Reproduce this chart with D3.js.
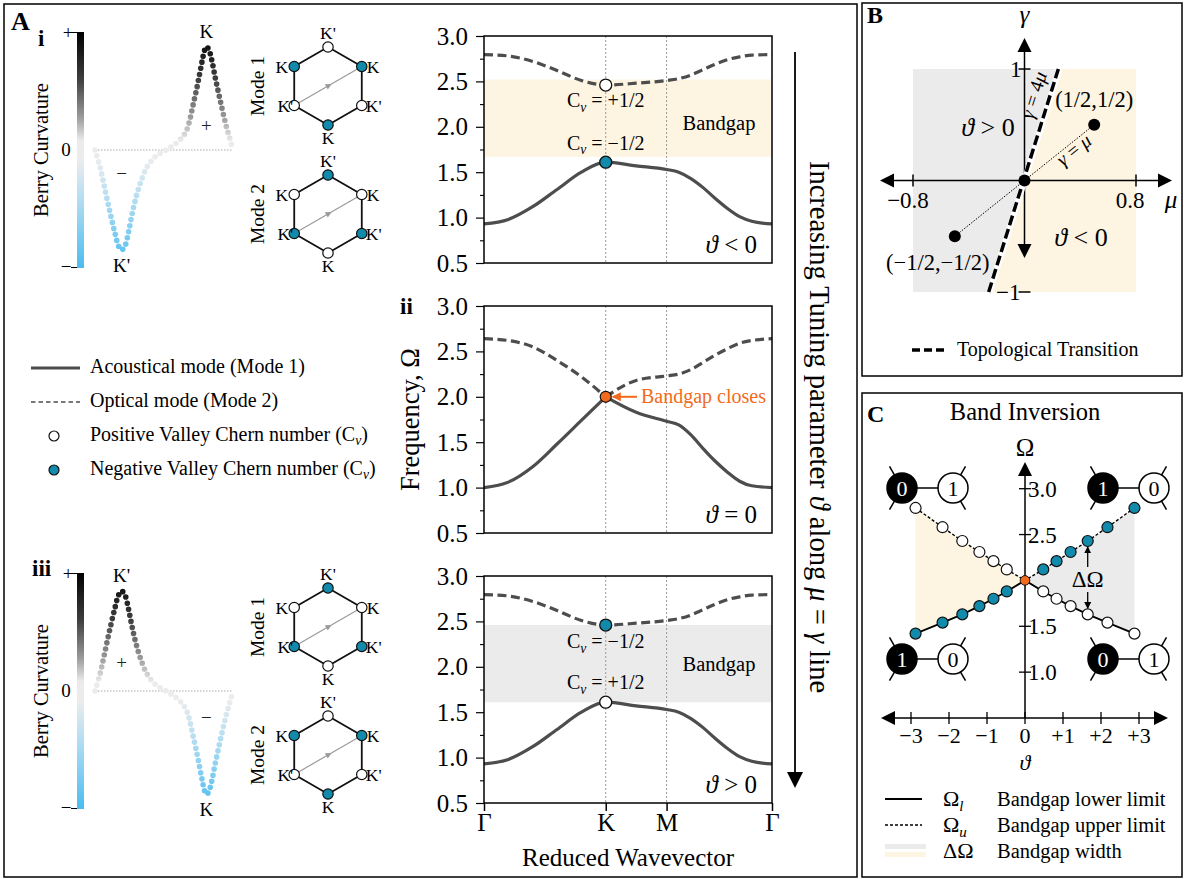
<!DOCTYPE html>
<html><head><meta charset="utf-8">
<script src="https://cdn.jsdelivr.net/npm/d3@7"></script>
<style>body{margin:0;background:#fff} text{font-family:"Liberation Serif","Times New Roman",serif;}</style>
</head><body><svg id="c" width="1184" height="879"></svg>
<script>
// ================= DATA =================
// Band structure along Γ-K-M-Γ (path length, Γ=0, K=1, M=1.5, Γ=2.366)
const kNodes = [0, 0.2, 0.4, 0.6, 0.8, 1.0, 1.25, 1.5, 1.6, 1.7, 1.8, 1.9, 2.0, 2.1, 2.2, 2.366];
const kTickVals = [0, 1.0, 1.5, 2.366];
const kTickLabels = ["Γ", "K", "M", "Γ"];
const acousticGapped = [0.93, 0.98, 1.12, 1.31, 1.50, 1.61, 1.57, 1.53, 1.50, 1.43, 1.33, 1.21, 1.10, 1.01, 0.96, 0.93];
const opticalGapped  = [2.795, 2.78, 2.72, 2.62, 2.51, 2.46, 2.48, 2.51, 2.53, 2.57, 2.63, 2.69, 2.74, 2.77, 2.79, 2.795];
const acousticZero   = [1.00, 1.06, 1.23, 1.48, 1.74, 2.00, 1.83, 1.73, 1.69, 1.58, 1.43, 1.29, 1.17, 1.07, 1.02, 1.00];
const opticalZero    = [2.64, 2.62, 2.55, 2.40, 2.22, 2.00, 2.18, 2.23, 2.25, 2.30, 2.38, 2.46, 2.53, 2.59, 2.62, 2.64];
const freqTicks = [0.5, 1.0, 1.5, 2.0, 2.5, 3.0];
const freqMinor = [0.75, 1.25, 1.75, 2.25, 2.75];
const gapNeg = [1.67, 2.52];   // bandgap, theta < 0
const gapPos = [1.61, 2.46];   // bandgap, theta > 0
const kAtK = 1.0;
const omegaKUpper = 2.46, omegaKLower = 1.61, omegaKZero = 2.0;

// Berry curvature profile (u across the path, v normalised curvature)
const berryU = [0, .036, .063, .089, .116, .145, .171, .193, .217, .241, .265, .292, .328, .378, .441, .506, .566, .627, .663, .687, .708, .735, .759, .778, .793, .807, .824, .846, .870, .896, .923, .949, .976, 1.0];
const berryV = [0, -.141, -.282, -.424, -.565, -.706, -.814, -.847, -.814, -.706, -.565, -.424, -.282, -.141, -.051, -.006, .037, .099, .164, .254, .367, .508, .650, .763, .842, .876, .853, .763, .621, .480, .339, .212, .099, 0];

// Hexagon vertex labels: top, upper-right, lower-right, bottom, lower-left, upper-left
const hexLabels = ["K'", "K", "K'", "K", "K'", "K"];
// valley Chern sign of K for each mode (K' is opposite)
const chernKsign = { i: { mode1: -1, mode2: 1 }, iii: { mode1: 1, mode2: -1 } };

// Panel B
const muDomain = [-0.8, 0.8], gammaDomain = [-1, 1];
const transitionSlope = 4;
const bPoints = [[0.5, 0.5], [-0.5, -0.5], [0, 0]];

// Panel C: band inversion
const thetaC     = [-2.88, -2.17, -1.65, -1.2, -0.83, -0.48, 0, 0.48, 0.83, 1.2, 1.65, 2.17, 2.88];
const omegaUpper = [2.79, 2.58, 2.43, 2.31, 2.21, 2.12, 2.0, 2.12, 2.21, 2.31, 2.43, 2.58, 2.79];
const omegaLower = [1.42, 1.54, 1.63, 1.72, 1.80, 1.88, 2.0, 1.88, 1.80, 1.72, 1.63, 1.54, 1.42];
const thetaTicks = [-3, -2, -1, 0, 1, 2, 3];
const thetaTickLabels = ["−3", "−2", "−1", "0", "+1", "+2", "+3"];
const omegaCTicks = [1.0, 1.5, 2.5, 3.0];
const dimerLabels = [["0", "1"], ["1", "0"], ["1", "0"], ["0", "1"]];

// ================= STYLE =================
const TEAL = "#118aab", ORANGE = "#f26b1d", CREAM = "#fdf4e1", GREY = "#ebebeb", LINE = "#4d4d4d";
const SERIF = '"Liberation Serif","Times New Roman",serif';

const svg = d3.select("#c");
svg.append("rect").attr("width", 1184).attr("height", 879).attr("fill", "#fff");
const defs = svg.append("defs");

function rich(g, x, y, segs, size, anchor = "start", rotate = null, extra = {}) {
  const t = g.append("text").attr("x", x).attr("y", y).attr("font-size", size)
    .attr("text-anchor", anchor).attr("font-family", SERIF);
  if (rotate !== null) t.attr("transform", `rotate(${rotate},${x},${y})`);
  for (const k in extra) t.attr(k, extra[k]);
  let shift = 0;
  segs.forEach(s => {
    if (typeof s === "string") s = { t: s };
    const sp = t.append("tspan").text(s.t);
    if (s.it) sp.attr("font-style", "italic");
    if (s.sub) { sp.attr("font-size", size * 0.68).attr("dy", size * 0.22 - shift); shift = size * 0.22; }
    else if (shift) { sp.attr("dy", -shift); shift = 0; }
    if (s.fill) sp.attr("fill", s.fill);
  });
  return t;
}
function T(g, x, y, str, size, anchor = "start", extra = {}) { return rich(g, x, y, [str], size, anchor, null, extra); }

// arrow markers
function marker(id, color, w, h) {
  defs.append("marker").attr("id", id).attr("viewBox", "0 0 10 10").attr("refX", 9).attr("refY", 5)
    .attr("markerWidth", w).attr("markerHeight", h).attr("orient", "auto").attr("markerUnits", "userSpaceOnUse")
    .append("path").attr("d", "M0,0 L10,5 L0,10 z").attr("fill", color);
}
marker("arrGrey", "#9a9a9a", 7, 6);
marker("arrOrange", ORANGE, 10, 9);
marker("arrBlack", "#000", 7, 7);

// ================= PANEL FRAMES =================
const frames = svg.append("g").attr("fill", "none").attr("stroke", "#000").attr("stroke-width", 1.5);
frames.append("rect").attr("x", 4).attr("y", 4).attr("width", 853).attr("height", 873);
frames.append("rect").attr("x", 862).attr("y", 3).attr("width", 320).attr("height", 373);
frames.append("rect").attr("x", 862).attr("y", 393).attr("width", 320).attr("height", 484);

const A = svg.append("g");
T(A, 11, 30, "A", 26, "start", { "font-weight": "bold" });
T(A, 38, 46, "i", 23, "start", { "font-weight": "bold" });
T(A, 400, 314, "ii", 23, "start", { "font-weight": "bold" });
T(A, 32, 576, "iii", 23, "start", { "font-weight": "bold" });

// ================= BERRY CURVATURE =================
function berryPanel(top, bottom, sign, idx, peakLabel, troughLabel) {
  const g = A.append("g");
  const gid = "bg" + idx;
  const grad = defs.append("linearGradient").attr("id", gid).attr("gradientUnits", "userSpaceOnUse")
    .attr("x1", 0).attr("x2", 0).attr("y1", top).attr("y2", bottom);
  [[0, "#000000"], [0.2, "#3e3e3e"], [0.36, "#9a9a9a"], [0.46, "#ebebeb"], [0.54, "#ececec"], [0.7, "#b6def2"], [1, "#4bbcef"]]
    .forEach(s => grad.append("stop").attr("offset", s[0]).attr("stop-color", s[1]));
  const yv = d3.scaleLinear().domain([-1, 1]).range([bottom, top]);
  const xu = d3.scaleLinear().domain([0, 1]).range([95, 233]);
  // colorbar
  g.append("rect").attr("x", 77).attr("y", top).attr("width", 7).attr("height", bottom - top).attr("fill", `url(#${gid})`);
  g.append("line").attr("x1", 71).attr("x2", 77).attr("y1", top + 0.5).attr("y2", top + 0.5).attr("stroke", "#000");
  g.append("line").attr("x1", 71).attr("x2", 77).attr("y1", bottom - 0.5).attr("y2", bottom - 0.5).attr("stroke", "#000");
  T(g, 68, top + 7, "+", 19, "middle");
  T(g, 66, yv(0) + 6, "0", 19, "middle");
  T(g, 66, bottom + 5, "−", 19, "middle");
  rich(g, 48, yv(0), ["Berry Curvature"], 20.5, "middle", -90);
  // zero line
  g.append("line").attr("x1", xu(0)).attr("x2", xu(1)).attr("y1", yv(0)).attr("y2", yv(0))
    .attr("stroke", "#aaa").attr("stroke-width", 1).attr("stroke-dasharray", "1.5,1.5");
  const pts = berryU.map((u, i) => [u, sign * berryV[i]]);
  g.append("path").attr("d", d3.line().x(d => xu(d[0])).y(d => yv(d[1])).curve(d3.curveCatmullRom)(pts))
    .attr("fill", "none").attr("stroke", `url(#${gid})`).attr("stroke-width", 5.6)
    .attr("stroke-linecap", "round").attr("stroke-dasharray", "0 6.2");
  // labels
  const iMax = d3.maxIndex(pts, d => d[1]), iMin = d3.minIndex(pts, d => d[1]);
  T(g, xu(pts[iMax][0]), yv(pts[iMax][1]) - 9, peakLabel, 19, "middle");
  T(g, xu(pts[iMin][0]), yv(pts[iMin][1]) + 22, troughLabel, 19, "middle");
  const posU = pts[iMax][0], negU = pts[iMin][0];
  T(g, xu(posU), yv(sign > 0 ? 0.2 : 0.24) + 6, "+", 19, "middle", { fill: "#222" });
  T(g, xu(negU), yv(sign > 0 ? -0.2 : -0.23) + 6, "−", 19, "middle", { fill: "#222" });
}
berryPanel(32, 268, 1, 1, "K", "K'");
berryPanel(573, 809, -1, 3, "K'", "K");

// ================= HEXAGONS =================
function hexagon(cx, cy, ksign, modeName) {
  const g = A.append("g");
  const r = 39;
  const angs = [-90, -30, 30, 90, 150, 210];
  const v = angs.map(a => [cx + r * Math.cos(a * Math.PI / 180), cy + r * Math.sin(a * Math.PI / 180)]);
  g.append("polygon").attr("points", v.map(p => p.join(",")).join(" "))
    .attr("fill", "none").attr("stroke", "#111").attr("stroke-width", 1.8);
  const mid = [(v[4][0] + v[1][0]) / 2 + 3, (v[4][1] + v[1][1]) / 2 - 1.8];
  g.append("line").attr("x1", v[4][0]).attr("y1", v[4][1]).attr("x2", mid[0]).attr("y2", mid[1])
    .attr("stroke", "#9a9a9a").attr("stroke-width", 1.2).attr("marker-end", "url(#arrGrey)");
  g.append("line").attr("x1", mid[0]).attr("y1", mid[1]).attr("x2", v[1][0]).attr("y2", v[1][1])
    .attr("stroke", "#9a9a9a").attr("stroke-width", 1.2);
  v.forEach((p, i) => {
    const s = hexLabels[i] === "K" ? ksign : -ksign;
    g.append("circle").attr("cx", p[0]).attr("cy", p[1]).attr("r", 5.2)
      .attr("fill", s > 0 ? "#fff" : TEAL).attr("stroke", "#111").attr("stroke-width", 1.2);
  });
  const fs = 17.5;
  T(g, v[0][0], v[0][1] - 8, hexLabels[0], fs, "middle");
  T(g, v[3][0], v[3][1] + 19, hexLabels[3], fs, "middle");
  T(g, v[1][0] + 5, v[1][1] + 6, hexLabels[1], fs, "start");
  T(g, v[2][0] + 4, v[2][1] + 6, hexLabels[2], fs, "start");
  T(g, v[4][0] - 1, v[4][1] + 6, hexLabels[4], fs, "end");
  T(g, v[5][0] - 6, v[5][1] + 6, hexLabels[5], fs, "end");
  rich(g, 264, cy, [modeName], 19.5, "middle", -90);
}
hexagon(328, 86, chernKsign.i.mode1, "Mode 1");
hexagon(328, 214, chernKsign.i.mode2, "Mode 2");
hexagon(328, 627, chernKsign.iii.mode1, "Mode 1");
hexagon(328, 755, chernKsign.iii.mode2, "Mode 2");

// ================= LEGEND A =================
(function () {
  const g = A.append("g");
  g.append("line").attr("x1", 31).attr("x2", 80).attr("y1", 368).attr("y2", 368).attr("stroke", LINE).attr("stroke-width", 2.8);
  g.append("line").attr("x1", 31).attr("x2", 80).attr("y1", 402).attr("y2", 402).attr("stroke", LINE).attr("stroke-width", 1.6).attr("stroke-dasharray", "4.5,3");
  g.append("circle").attr("cx", 54).attr("cy", 436).attr("r", 5).attr("fill", "#fff").attr("stroke", "#111").attr("stroke-width", 1.2);
  g.append("circle").attr("cx", 54).attr("cy", 470).attr("r", 5).attr("fill", TEAL).attr("stroke", "#111").attr("stroke-width", 1.2);
  T(g, 90, 373, "Acoustical mode (Mode 1)", 20);
  T(g, 90, 407, "Optical mode (Mode 2)", 20);
  rich(g, 90, 441, ["Positive Valley Chern number (C", { t: "v", it: true, sub: true }, ")"], 20);
  rich(g, 90, 475, ["Negative Valley Chern number (C", { t: "v", it: true, sub: true }, ")"], 20);
})();

// ================= BAND PLOTS =================
const bx = d3.scaleLinear().domain([0, kTickVals[3]]).range([484, 772]);
function bandPlot(y0, acoustic, optical, cusp, gap, gapColor, showX) {
  const g = A.append("g");
  const y = d3.scaleLinear().domain([0.5, 3.0]).range([y0 + 227, y0]);
  if (gap) g.append("rect").attr("x", bx(0)).attr("width", bx(kTickVals[3]) - bx(0))
    .attr("y", y(gap[1])).attr("height", y(gap[0]) - y(gap[1])).attr("fill", gapColor);
  [kTickVals[1], kTickVals[2]].forEach(k => g.append("line").attr("x1", bx(k)).attr("x2", bx(k))
    .attr("y1", y(3.0)).attr("y2", y(0.5)).attr("stroke", "#999").attr("stroke-width", 1).attr("stroke-dasharray", "2,2"));
  const line = d3.line().x(d => bx(d[0])).y(d => y(d[1])).curve(d3.curveMonotoneX);
  const kIdx = kNodes.indexOf(kAtK);
  function draw(vals, dash) {
    const pts = kNodes.map((k, i) => [k, vals[i]]);
    const segs = cusp ? [pts.slice(0, kIdx + 1), pts.slice(kIdx)] : [pts];
    segs.forEach(s => {
      const p = g.append("path").attr("d", line(s)).attr("fill", "none").attr("stroke", LINE).attr("stroke-width", 3.2);
      if (dash) p.attr("stroke-dasharray", "9,4.5");
    });
  }
  draw(acoustic, false);
  draw(optical, true);
  g.append("rect").attr("x", bx(0)).attr("y", y(3.0)).attr("width", bx(kTickVals[3]) - bx(0)).attr("height", y(0.5) - y(3.0))
    .attr("fill", "none").attr("stroke", "#000").attr("stroke-width", 1.5);
  const ax = g.append("g").attr("transform", `translate(${bx(0)},0)`)
    .call(d3.axisLeft(y).tickValues(freqTicks).tickSize(8).tickPadding(8).tickFormat(d3.format(".1f")));
  ax.select(".domain").remove();
  ax.selectAll("text").attr("font-size", 25).attr("font-family", SERIF).attr("fill", "#000");
  ax.selectAll("line").attr("stroke-width", 1.2);
  const axm = g.append("g").attr("transform", `translate(${bx(0)},0)`)
    .call(d3.axisLeft(y).tickValues(freqMinor).tickSize(4).tickFormat(""));
  axm.select(".domain").remove();
  axm.selectAll("line").attr("stroke-width", 1.1);
  if (showX) {
    const axx = g.append("g").attr("transform", `translate(0,${y(0.5)})`)
      .call(d3.axisBottom(bx).tickValues(kTickVals).tickSize(8).tickPadding(2).tickFormat((d, i) => kTickLabels[i]));
    axx.select(".domain").remove();
    axx.selectAll("text").attr("font-size", 25).attr("font-family", SERIF).attr("fill", "#000");
    axx.selectAll("line").attr("stroke-width", 1.5);
  }
  return { g, y };
}

// (i) theta < 0
(function () {
  const { g, y } = bandPlot(36, acousticGapped, opticalGapped, false, gapNeg, CREAM, false);
  g.append("circle").attr("cx", bx(kAtK)).attr("cy", y(omegaKUpper)).attr("r", 6).attr("fill", "#fff").attr("stroke", "#111").attr("stroke-width", 1.3);
  g.append("circle").attr("cx", bx(kAtK)).attr("cy", y(omegaKLower)).attr("r", 6).attr("fill", TEAL).attr("stroke", "#111").attr("stroke-width", 1.3);
  rich(g, bx(kAtK), y(2.28) + 6, ["C", { t: "v", it: true, sub: true }, " = +1/2"], 20, "middle");
  rich(g, bx(kAtK), y(1.81) + 6, ["C", { t: "v", it: true, sub: true }, " = −1/2"], 20, "middle");
  T(g, 719, y(2.04) + 7, "Bandgap", 20.5, "middle");
  rich(g, 757, y(0.5) - 10, [{ t: "ϑ", it: true }, " < 0"], 25, "end");
})();
// (ii) theta = 0
(function () {
  const { g, y } = bandPlot(306, acousticZero, opticalZero, true, null, null, false);
  g.append("line").attr("x1", 637).attr("x2", bx(kAtK) + 7).attr("y1", y(omegaKZero)).attr("y2", y(omegaKZero))
    .attr("stroke", ORANGE).attr("stroke-width", 2).attr("marker-end", "url(#arrOrange)");
  g.append("circle").attr("cx", bx(kAtK)).attr("cy", y(omegaKZero)).attr("r", 5.5).attr("fill", ORANGE).attr("stroke", "#111").attr("stroke-width", 1.2);
  T(g, 641, y(omegaKZero) + 6.5, "Bandgap closes", 20, "start", { fill: ORANGE });
  rich(g, 757, y(0.5) - 10, [{ t: "ϑ", it: true }, " = 0"], 25, "end");
  rich(g, 419, y(1.75), ["Frequency, Ω"], 26.5, "middle", -90);
})();
// (iii) theta > 0
(function () {
  const { g, y } = bandPlot(576, acousticGapped, opticalGapped, false, gapPos, GREY, true);
  g.append("circle").attr("cx", bx(kAtK)).attr("cy", y(omegaKUpper)).attr("r", 6).attr("fill", TEAL).attr("stroke", "#111").attr("stroke-width", 1.3);
  g.append("circle").attr("cx", bx(kAtK)).attr("cy", y(omegaKLower)).attr("r", 6).attr("fill", "#fff").attr("stroke", "#111").attr("stroke-width", 1.3);
  rich(g, bx(kAtK), y(2.27) + 6, ["C", { t: "v", it: true, sub: true }, " = −1/2"], 20, "middle");
  rich(g, bx(kAtK), y(1.82) + 6, ["C", { t: "v", it: true, sub: true }, " = +1/2"], 20, "middle");
  T(g, 719, y(2.03) + 7, "Bandgap", 20.5, "middle");
  rich(g, 757, y(0.5) - 10, [{ t: "ϑ", it: true }, " > 0"], 25, "end");
  T(g, 628, 866, "Reduced Wavevector", 25, "middle");
})();

// tuning arrow
(function () {
  const g = A.append("g");
  g.append("line").attr("x1", 795).attr("x2", 795).attr("y1", 52).attr("y2", 775).attr("stroke", "#000").attr("stroke-width", 1.8);
  g.append("path").attr("d", "M787,772 L803,772 L795,788 Z").attr("fill", "#000");
  rich(g, 810, 427, ["Increasing Tuning parameter ", { t: "ϑ", it: true }, " along ", { t: "μ", it: true }, " = ", { t: "γ", it: true }, " line"], 28.5, "middle", 90);
})();

// ================= PANEL B =================
(function () {
  const g = svg.append("g");
  const mu = d3.scaleLinear().domain(muDomain).range([913, 1136]);
  const ga = d3.scaleLinear().domain(gammaDomain).range([292, 69]);
  const cx = mu(0), cy = ga(0);
  const edge = gammaDomain[1] / transitionSlope;
  const poly = (pts, fill) => g.append("polygon").attr("points", pts.map(p => [mu(p[0]), ga(p[1])].join(",")).join(" ")).attr("fill", fill);
  poly([[muDomain[0], 1], [edge, 1], [-edge, -1], [muDomain[0], -1]], GREY);
  poly([[edge, 1], [muDomain[1], 1], [muDomain[1], -1], [-edge, -1]], CREAM);
  // axes
  g.append("line").attr("x1", 890).attr("x2", 1162).attr("y1", cy).attr("y2", cy).attr("stroke", "#000").attr("stroke-width", 1.5);
  g.append("line").attr("x1", cx).attr("x2", cx).attr("y1", 48).attr("y2", 248).attr("stroke", "#000").attr("stroke-width", 1.5);
  g.append("path").attr("d", `M880,${cy} L894,${cy - 7} L894,${cy + 7} Z`).attr("fill", "#000");
  g.append("path").attr("d", `M1172,${cy} L1158,${cy - 7} L1158,${cy + 7} Z`).attr("fill", "#000");
  g.append("path").attr("d", `M${cx},38 L${cx - 7},52 L${cx + 7},52 Z`).attr("fill", "#000");
  g.append("path").attr("d", `M${cx},258 L${cx - 7},244 L${cx + 7},244 Z`).attr("fill", "#000");
  muDomain.forEach(m => g.append("line").attr("x1", mu(m)).attr("x2", mu(m)).attr("y1", cy - 6).attr("y2", cy + 6).attr("stroke", "#000").attr("stroke-width", 1.5));
  gammaDomain.forEach(v => g.append("line").attr("x1", cx - 6).attr("x2", cx + 6).attr("y1", ga(v)).attr("y2", ga(v)).attr("stroke", "#000").attr("stroke-width", 1.5));
  T(g, mu(muDomain[0]) - 5, cy + 27, "−0.8", 23, "middle");
  T(g, mu(muDomain[1]) - 6, cy + 27, "0.8", 23, "middle");
  rich(g, 1171, cy + 27, [{ t: "μ", it: true }], 25, "middle");
  rich(g, cx, 23, [{ t: "γ", it: true }], 25, "middle");
  T(g, cx - 3, ga(1) + 8, "1", 23, "end");
  T(g, cx - 4, ga(-1) + 8, "−1", 23, "end");
  // transition line
  g.append("line").attr("x1", mu(-edge)).attr("y1", ga(-1)).attr("x2", mu(edge)).attr("y2", ga(1))
    .attr("stroke", "#fff").attr("stroke-width", 6);
  g.append("line").attr("x1", mu(-edge) - 1).attr("y1", ga(-1)).attr("x2", mu(edge) - 1).attr("y2", ga(1))
    .attr("stroke", "#000").attr("stroke-width", 3.5).attr("stroke-dasharray", "10,4");
  // gamma = mu line
  g.append("line").attr("x1", mu(bPoints[1][0])).attr("y1", ga(bPoints[1][1])).attr("x2", mu(bPoints[0][0])).attr("y2", ga(bPoints[0][1]))
    .attr("stroke", "#000").attr("stroke-width", 1).attr("stroke-dasharray", "1.5,1.5");
  bPoints.forEach(p => g.append("circle").attr("cx", mu(p[0])).attr("cy", ga(p[1])).attr("r", 6).attr("fill", "#000"));
  T(g, mu(0.5), ga(0.5) - 18, "(1/2,1/2)", 22.5, "middle");
  T(g, mu(-0.5) - 17, ga(-0.5) + 34, "(−1/2,−1/2)", 22.5, "middle");
  rich(g, 988, 136, [{ t: "ϑ", it: true }, " > 0"], 26, "middle");
  rich(g, 1081, 246, [{ t: "ϑ", it: true }, " < 0"], 26, "middle");
  const a1 = Math.atan2(ga(1) - ga(0), mu(edge) - mu(0)) * 180 / Math.PI;
  rich(g, 1040, 97, [{ t: "γ", it: true }, " = 4", { t: "μ", it: true }], 19.5, "middle", a1);
  const a2 = Math.atan2(ga(0.5) - ga(0), mu(0.5) - mu(0)) * 180 / Math.PI;
  rich(g, 1078, 155, [{ t: "γ", it: true }, " = ", { t: "μ", it: true }], 19.5, "middle", a2);
  // legend
  g.append("line").attr("x1", 912).attr("x2", 948).attr("y1", 350).attr("y2", 350).attr("stroke", "#000").attr("stroke-width", 3.5).attr("stroke-dasharray", "8,4");
  T(g, 957, 356, "Topological Transition", 20);
  T(g, 867, 23, "B", 24, "start", { "font-weight": "bold" });
})();

// ================= PANEL C =================
(function () {
  const g = svg.append("g");
  const th = d3.scaleLinear().domain([-3, 3]).range([911, 1139]);
  const om = d3.scaleLinear().domain([0.5, 3.0]).range([718, 488.7]);
  const cx = th(0), base = om(0.5);
  T(g, 867, 422, "C", 24, "start", { "font-weight": "bold" });
  T(g, 1025, 420, "Band Inversion", 24.5, "middle");
  // shaded areas
  const pts = thetaC.map((t, i) => ({ t, u: omegaUpper[i], l: omegaLower[i] }));
  const area = d3.area().x(d => th(d.t)).y0(d => om(d.l)).y1(d => om(d.u));
  g.append("path").attr("d", area(pts.filter(d => d.t <= 0))).attr("fill", CREAM);
  g.append("path").attr("d", area(pts.filter(d => d.t >= 0))).attr("fill", GREY);
  // axes
  g.append("line").attr("x1", 891).attr("x2", 1158).attr("y1", base).attr("y2", base).attr("stroke", "#000").attr("stroke-width", 1.5);
  g.append("path").attr("d", `M881,${base} L895,${base - 7} L895,${base + 7} Z`).attr("fill", "#000");
  g.append("path").attr("d", `M1168,${base} L1154,${base - 7} L1154,${base + 7} Z`).attr("fill", "#000");
  g.append("line").attr("x1", cx).attr("x2", cx).attr("y1", base).attr("y2", 472).attr("stroke", "#000").attr("stroke-width", 1.5);
  g.append("path").attr("d", `M${cx},462 L${cx - 7},476 L${cx + 7},476 Z`).attr("fill", "#000");
  thetaTicks.forEach((t, i) => {
    g.append("line").attr("x1", th(t)).attr("x2", th(t)).attr("y1", base - 6).attr("y2", base + 6).attr("stroke", "#000").attr("stroke-width", 1.3);
    T(g, th(t), base + 25, thetaTickLabels[i], 22, "middle");
  });
  omegaCTicks.forEach(v => {
    g.append("line").attr("x1", cx - 6).attr("x2", cx + 6).attr("y1", om(v)).attr("y2", om(v)).attr("stroke", "#000").attr("stroke-width", 1.3);
    T(g, cx + 3, om(v) + 8, d3.format(".1f")(v), 23, "start");
  });
  rich(g, cx, base + 52, [{ t: "ϑ", it: true }], 22, "middle");
  T(g, cx, 456, "Ω", 25, "middle");
  // lines
  const lu = d3.line().x(d => th(d.t)).y(d => om(d.u));
  const ll = d3.line().x(d => th(d.t)).y(d => om(d.l));
  g.append("path").attr("d", ll(pts)).attr("fill", "none").attr("stroke", "#000").attr("stroke-width", 1.8);
  g.append("path").attr("d", lu(pts)).attr("fill", "none").attr("stroke", "#000").attr("stroke-width", 1.4).attr("stroke-dasharray", "3,2");
  pts.forEach(d => {
    if (d.t === 0) return;
    g.append("circle").attr("cx", th(d.t)).attr("cy", om(d.u)).attr("r", 5.5).attr("fill", d.t < 0 ? "#fff" : TEAL).attr("stroke", "#111").attr("stroke-width", 1.2);
    g.append("circle").attr("cx", th(d.t)).attr("cy", om(d.l)).attr("r", 5.5).attr("fill", d.t < 0 ? TEAL : "#fff").attr("stroke", "#111").attr("stroke-width", 1.2);
  });
  g.append("circle").attr("cx", th(0)).attr("cy", om(2.0)).attr("r", 4.8).attr("fill", ORANGE).attr("stroke", "#111").attr("stroke-width", 1);
  // delta omega annotation at theta = 1.65
  const ia = thetaC.indexOf(1.65);
  const xa = th(thetaC[ia]);
  T(g, xa, 587, "ΔΩ", 23, "middle");
  g.append("line").attr("x1", xa).attr("x2", xa).attr("y1", 567).attr("y2", om(omegaUpper[ia]) + 6).attr("stroke", "#000").attr("stroke-width", 1.3).attr("marker-end", "url(#arrBlack)");
  g.append("line").attr("x1", xa).attr("x2", xa).attr("y1", 592).attr("y2", om(omegaLower[ia]) - 6).attr("stroke", "#000").attr("stroke-width", 1.3).attr("marker-end", "url(#arrBlack)");
  // dimers
  const dimerPos = [[902, 488], [1103, 488], [902, 659], [1103, 659]];
  dimerLabels.forEach((lab, i) => {
    const [x0, y0] = dimerPos[i], d = 51, r = 15, L = 25;
    const dg = g.append("g").attr("stroke", "#000").attr("stroke-width", 1.5);
    const c = Math.cos(Math.PI / 3) * L, s = Math.sin(Math.PI / 3) * L;
    [[x0 - c, y0 - s], [x0 - c, y0 + s]].forEach(p => dg.append("line").attr("x1", x0).attr("y1", y0).attr("x2", p[0]).attr("y2", p[1]));
    [[x0 + d + c, y0 - s], [x0 + d + c, y0 + s]].forEach(p => dg.append("line").attr("x1", x0 + d).attr("y1", y0).attr("x2", p[0]).attr("y2", p[1]));
    dg.append("line").attr("x1", x0).attr("y1", y0).attr("x2", x0 + d).attr("y2", y0);
    dg.append("circle").attr("cx", x0).attr("cy", y0).attr("r", r).attr("fill", "#000");
    dg.append("circle").attr("cx", x0 + d).attr("cy", y0).attr("r", r).attr("fill", "#fff");
    T(g, x0, y0 + 7.5, lab[0], 22, "middle", { fill: "#fff" });
    T(g, x0 + d, y0 + 7.5, lab[1], 22, "middle");
  });
  // legend
  g.append("line").attr("x1", 885).attr("x2", 922).attr("y1", 799).attr("y2", 799).attr("stroke", "#000").attr("stroke-width", 1.8);
  g.append("line").attr("x1", 885).attr("x2", 922).attr("y1", 825).attr("y2", 825).attr("stroke", "#000").attr("stroke-width", 1.4).attr("stroke-dasharray", "3,2");
  g.append("rect").attr("x", 885).attr("y", 844).attr("width", 41).attr("height", 5).attr("fill", GREY);
  g.append("rect").attr("x", 885).attr("y", 852).attr("width", 41).attr("height", 5).attr("fill", CREAM);
  rich(g, 943, 806, ["Ω", { t: "l", it: true, sub: true }], 22);
  rich(g, 943, 832, ["Ω", { t: "u", it: true, sub: true }], 22);
  T(g, 943, 858, "ΔΩ", 22);
  T(g, 997, 806, "Bandgap lower limit", 20.5);
  T(g, 997, 832, "Bandgap upper limit", 20.5);
  T(g, 997, 858, "Bandgap width", 20.5);
})();
</script></body></html>
